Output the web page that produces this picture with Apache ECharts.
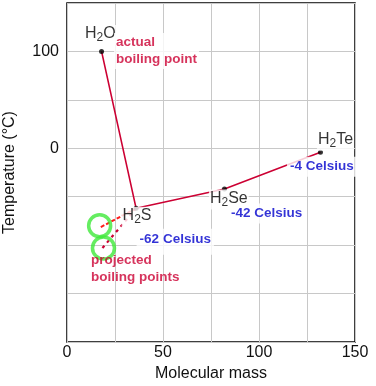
<!DOCTYPE html>
<html><head><meta charset="utf-8">
<script src="https://cdn.jsdelivr.net/npm/echarts@6/dist/echarts.min.js"></script>
<style>html,body{margin:0;padding:0;background:#fff}#c{width:376px;height:386px}</style>
</head><body><div id="c"></div>
<script>
// ---- data ----
const molecules = ['H2O', 'H2S', 'H2Se', 'H2Te'];
const molecularMass = [18, 36, 82, 132];
const boilingPoint = [100, -62, -42, -4];
const celsiusLabels = ['', '-62 Celsius', '-42 Celsius', '-4 Celsius'];
const projectedMass = [17, 18];
const projectedBoiling = [-82, -104];
const circleMass = [17, 19];
const circleBoiling = [-80, -103];
const xTickLabels = [0, 50, 100, 150];
const yTickLabels = [100, 0];
const actualText = 'actual\nboiling point';
const projectedText = 'projected\nboiling points';

// ---- styles ----
const FONT = '"Liberation Sans", Arial, Helvetica, sans-serif';
const CRIMSON = '#cc0033';
const BLUE = '#0000cc';
const GREEN = '#3ee83a';
const formulaOffsets = [[-17, -26], [-14, -1], [-15, 1], [-3, -21]];
const celsiusOffsets = [[0, 0], [1, 21], [4, 15], [-33, 5]];

const pts = molecularMass.map((m, i) => [m, boilingPoint[i]]);
const formulaRich = {
  n: {fontSize: 16, lineHeight: 18, verticalAlign: 'top', color: '#000', fontFamily: FONT},
  s: {fontSize: 12, lineHeight: 8, verticalAlign: 'bottom', color: '#000', fontFamily: FONT}
};
function formula(name) {
  return name.replace(/^H2(.*)$/, '{n|H}{s|2}{n|$1}');
}

const chart = echarts.init(document.getElementById('c'), null, {renderer: 'canvas'});
chart.setOption({
  animation: false,
  backgroundColor: '#fff',
  textStyle: {fontFamily: FONT},
  grid: {left: 67, right: 21, top: 3, bottom: 44, show: true, borderColor: '#000', borderWidth: 1.5,
         containLabel: false, outerBoundsMode: 'none'},
  xAxis: {
    type: 'value', min: 0, max: 150, interval: 25,
    name: 'Molecular mass', nameLocation: 'middle', nameGap: 18,
    nameTextStyle: {fontSize: 16, color: '#111', fontFamily: FONT},
    axisLine: {show: false}, axisTick: {show: false},
    axisLabel: {margin: 3, fontSize: 16, color: '#111', fontFamily: FONT,
      formatter: v => xTickLabels.includes(v) ? String(v) : ''},
    splitLine: {show: true, lineStyle: {color: '#c8c8c8', width: 1}}
  },
  yAxis: {
    type: 'value', min: -200, max: 150, interval: 50,
    name: 'Temperature (°C)', nameLocation: 'middle', nameGap: 49,
    nameTextStyle: {fontSize: 16, color: '#111', fontFamily: FONT},
    axisLine: {show: false}, axisTick: {show: false},
    axisLabel: {margin: 8, fontSize: 16, color: '#111', fontFamily: FONT,
      formatter: v => yTickLabels.includes(v) ? String(v) : ''},
    splitLine: {show: true, lineStyle: {color: '#c8c8c8', width: 1}}
  },
  series: [
    {type: 'line', data: pts, symbol: 'none', z: 2,
     lineStyle: {color: CRIMSON, width: 1.6}},
    {type: 'line', data: [pts[1], [projectedMass[0], projectedBoiling[0]]], symbol: 'none', z: 3,
     lineStyle: {color: '#ff1a1a', width: 2, type: [4, 2]}},
    {type: 'line', data: [pts[1], [projectedMass[1], projectedBoiling[1]]], symbol: 'none', z: 3,
     lineStyle: {color: CRIMSON, width: 2.2, type: [3, 4]}},
    {type: 'scatter', z: 4, symbol: 'circle', symbolSize: 22,
     data: circleMass.map((m, i) => [m, circleBoiling[i]]),
     itemStyle: {color: 'rgba(0,0,0,0)', borderColor: GREEN, borderWidth: 3.5}},
    {type: 'scatter', z: 5, symbol: 'circle', symbolSize: 5, data: pts,
     itemStyle: {color: '#000'}},
    // formula labels
    {type: 'scatter', z: 6, symbolSize: 1, itemStyle: {color: 'rgba(0,0,0,0)'},
     data: pts.map((p, i) => ({value: p, label: {
       show: true, position: formulaOffsets[i], align: 'left', verticalAlign: 'top',
       formatter: formula(molecules[i]), rich: formulaRich,
       backgroundColor: '#fff', padding: [1, 1]}}))},
    // celsius labels
    {type: 'scatter', z: 6, symbolSize: 1, itemStyle: {color: 'rgba(0,0,0,0)'},
     data: pts.map((p, i) => ({value: p, label: {
       show: celsiusLabels[i] !== '', position: celsiusOffsets[i], align: 'left', verticalAlign: 'top',
       formatter: celsiusLabels[i], fontSize: 13.5, fontWeight: 'bold', color: BLUE, lineHeight: 16,
       backgroundColor: '#fff', padding: i === 1 ? [2, 3, 8, 3] : [2, 3]}}))},
    // actual boiling point annotation (at H2O)
    {type: 'scatter', z: 6, symbolSize: 1, itemStyle: {color: 'rgba(0,0,0,0)'},
     data: [{value: pts[0], label: {show: true, position: [13, -18], align: 'left', verticalAlign: 'top',
       formatter: actualText, fontSize: 13.5, fontWeight: 'bold', color: CRIMSON, lineHeight: 17,
       backgroundColor: '#fff', padding: [1, 2]}}]},
    // projected boiling points annotation
    {type: 'scatter', z: 6, symbolSize: 1, itemStyle: {color: 'rgba(0,0,0,0)'},
     data: [{value: [projectedMass[1], projectedBoiling[1]], label: {show: true, position: [-12, 2],
       align: 'left', verticalAlign: 'top',
       formatter: projectedText, fontSize: 13.5, fontWeight: 'bold', color: CRIMSON, lineHeight: 17,
       padding: [1, 2]}}]}
  ]
});
</script></body></html>
